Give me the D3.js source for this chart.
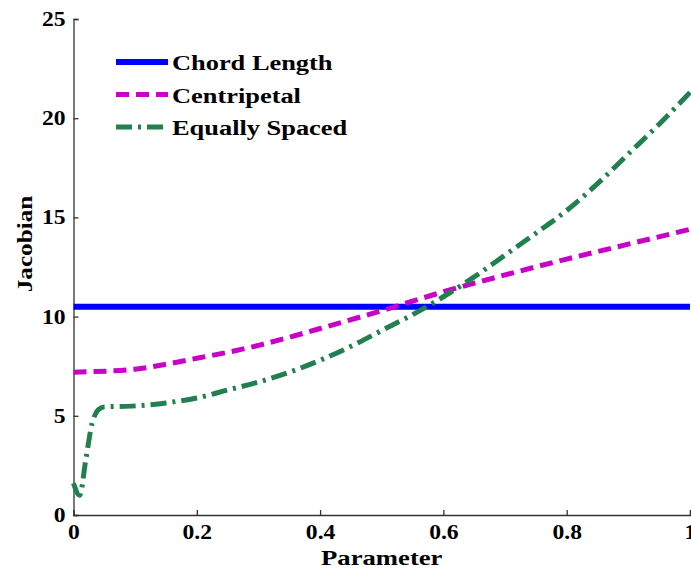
<!DOCTYPE html>
<html>
<head>
<meta charset="utf-8">
<script src="https://cdn.jsdelivr.net/npm/d3@7"></script>
<style>
  body { margin: 0; background: #fff; }
  svg text { font-family: "Liberation Serif", "Times New Roman", serif; font-weight: bold; fill: #000; }
</style>
</head>
<body>
<div id="chart"></div>
<script>
// data
const seriesNames = ["Chord Length", "Centripetal", "Equally Spaced"];

const chordX = [0, 1];
const chordY = [10.5, 10.5];

const centripX = [0, 0.1, 0.15, 0.2, 0.25, 0.3, 0.4, 0.5, 0.6, 0.7, 0.8, 0.9, 1.0];
const centripY = [7.2, 7.35, 7.6, 7.9, 8.2, 8.55, 9.4, 10.3, 11.25, 12.1, 12.9, 13.65, 14.4];

const equalX = [0, 0.01, 0.02, 0.03, 0.04, 0.05, 0.1, 0.15, 0.2, 0.25, 0.3, 0.35, 0.4, 0.45, 0.5, 0.55, 0.6, 0.65, 0.7, 0.75, 0.8, 0.85, 0.9, 0.95, 1.0];
const equalY = [1.6, 1.0, 2.8, 4.6, 5.3, 5.45, 5.5, 5.65, 5.9, 6.3, 6.7, 7.2, 7.8, 8.5, 9.3, 10.1, 11.0, 12.0, 13.1, 14.2, 15.35, 16.7, 18.2, 19.7, 21.3];

const xTicks = [0, 0.2, 0.4, 0.6, 0.8, 1];
const yTicks = [0, 5, 10, 15, 20, 25];

// layout
const W = 691, H = 571;
const margin = { top: 19, right: 1, bottom: 56, left: 73.5 };
const width = W - margin.left - margin.right;
const height = H - margin.top - margin.bottom;

// the original figure's text is drawn wide, so stretch it a bit along the line
const tickStretch = 1.18;

const svg = d3.select("#chart").append("svg")
    .attr("width", W)
    .attr("height", H);

const g = svg.append("g")
    .attr("transform", "translate(" + margin.left + "," + margin.top + ")");

const x = d3.scaleLinear().domain([0, 1]).range([0, width]);
const y = d3.scaleLinear().domain([0, 25]).range([height, 0]);

// axes (ticks point inward, like matlab)
const xAxis = g.append("g")
    .attr("transform", "translate(0," + height + ")")
    .call(d3.axisBottom(x).tickValues(xTicks).tickFormat(d3.format("")).tickSize(-5).tickPadding(10));
const yAxis = g.append("g")
    .call(d3.axisLeft(y).tickValues(yTicks).tickSize(-5).tickPadding(8));

[xAxis, yAxis].forEach(function(a) {
    a.select(".domain").attr("stroke", "#333").attr("stroke-width", 1.3);
    a.selectAll(".tick line").attr("stroke", "#333").attr("stroke-width", 1.3);
    a.selectAll(".tick text")
        .attr("fill", "#000")
        .style("font-size", "20px")
        .style("font-family", "'Liberation Serif', serif")
        .style("font-weight", "bold")
        .attr("transform", "scale(" + tickStretch + ",1)");
});
// keep the y labels ending at the same spot after the stretch
yAxis.selectAll(".tick text").attr("x", -8 / tickStretch);

g.append("text")
    .attr("text-anchor", "middle")
    .attr("transform", "translate(" + (width / 2) + "," + (height + 50) + ") scale(1.27,1)")
    .style("font-size", "21px")
    .text("Parameter");

g.append("text")
    .attr("text-anchor", "middle")
    .attr("transform", "translate(-42," + (244 - margin.top) + ") rotate(-90) scale(1.2,1)")
    .style("font-size", "21px")
    .text("Jacobian");

// lines
const line = d3.line()
    .x(function(d) { return x(d[0]); })
    .y(function(d) { return y(d[1]); })
    .curve(d3.curveMonotoneX);

const series = [
    { name: seriesNames[0], xs: chordX, ys: chordY, color: "#0000ff", dash: null, w: 6 },
    { name: seriesNames[1], xs: centripX, ys: centripY, color: "#c800c8", dash: "13,7", w: 5 },
    { name: seriesNames[2], xs: equalX, ys: equalY, color: "#22804f", dash: "16,6,3,6", w: 5 }
];

series.forEach(function(s) {
    const pts = s.xs.map(function(v, i) { return [v, s.ys[i]]; });
    g.append("path")
        .datum(pts)
        .attr("fill", "none")
        .attr("stroke", s.color)
        .attr("stroke-width", s.w)
        .attr("stroke-dasharray", s.dash)
        .attr("d", line);
});

// legend
const legend = svg.append("g").attr("transform", "translate(116,62)");
series.forEach(function(s, i) {
    const row = legend.append("g").attr("transform", "translate(0," + (i * 32.5) + ")");
    row.append("line")
        .attr("x1", 0).attr("x2", 52)
        .attr("stroke", s.color)
        .attr("stroke-width", s.w)
        .attr("stroke-dasharray", s.dash);
    row.append("text")
        .attr("transform", "translate(56,8) scale(1.2,1)")
        .style("font-size", "22px")
        .text(s.name);
});
</script>
</body>
</html>
